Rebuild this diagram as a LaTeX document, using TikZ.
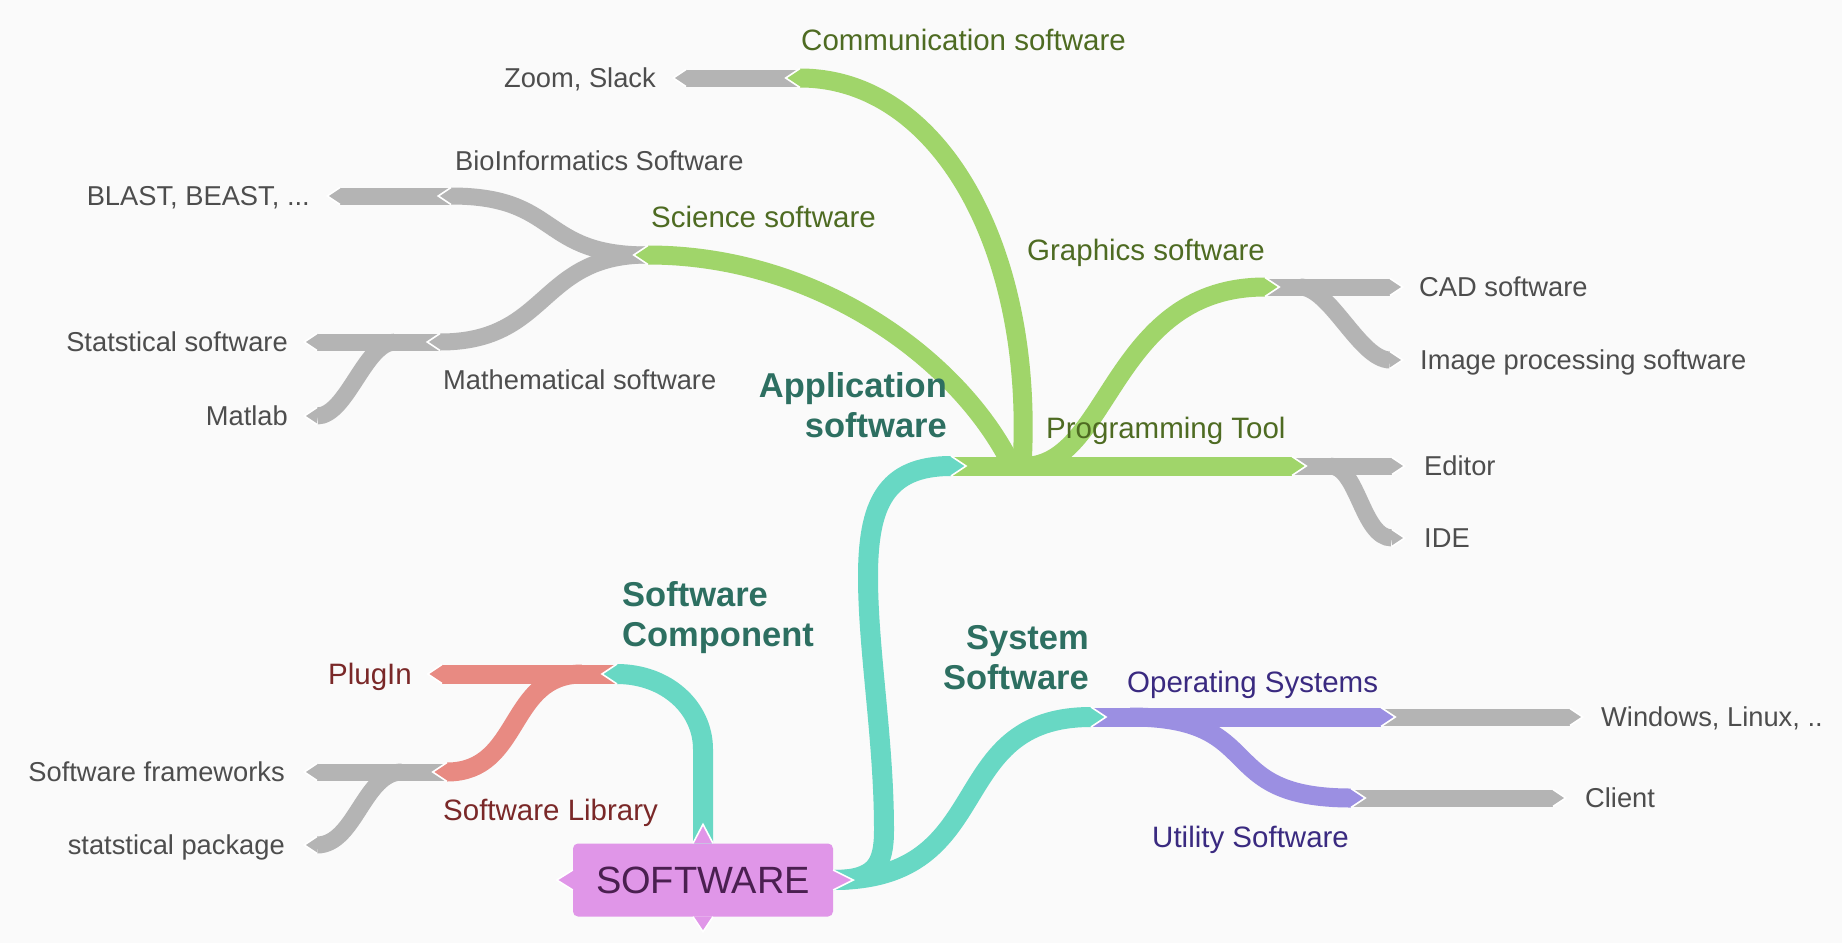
\documentclass[tikz,border=0pt]{standalone}
\usepackage{fontspec}
\setmainfont{Liberation Sans}
\usetikzlibrary{positioning}

\definecolor{bggray}{RGB}{250,250,250}
\definecolor{leafgray}{RGB}{180,180,180}
\definecolor{leaftext}{RGB}{77,77,77}
\definecolor{appgreen}{RGB}{160,213,106}
\definecolor{apptext}{RGB}{78,107,34}
\definecolor{rootteal}{RGB}{104,216,196}
\definecolor{tealtext}{RGB}{45,111,97}
\definecolor{syspurple}{RGB}{155,143,226}
\definecolor{systext}{RGB}{58,42,128}
\definecolor{comprose}{RGB}{232,138,130}
\definecolor{comptext}{RGB}{122,40,40}
\definecolor{rootpink}{RGB}{224,150,232}
\definecolor{roottext}{RGB}{74,31,80}

%% pointed ends of the branches: at, colour, half width
\newcommand{\tipW}[3]{\filldraw[fill=#2, draw=white, line width=1.6pt] ([yshift=#3]#1) -- ([xshift=-1.5*#3]#1) -- ([yshift=-#3]#1);}
\newcommand{\tipE}[3]{\filldraw[fill=#2, draw=white, line width=1.6pt] ([yshift=#3]#1) -- ([xshift=1.5*#3]#1) -- ([yshift=-#3]#1);}

\tikzset{
  bar/.style={draw=leafgray, line width=17pt, line cap=butt},
  limb/.style={line width=19pt, line cap=butt},
  trunk/.style={draw=rootteal, line width=20pt, line cap=butt},
  leaf/.style={font=\fontsize{27.3}{30}\selectfont, text=leaftext, inner sep=0pt, text height=19.5pt, text depth=0pt},
  topic/.style={font=\fontsize{29.5}{33}\selectfont, inner sep=0pt, text height=21.1pt, text depth=0pt},
  headline/.style={font=\bfseries\fontsize{34.5}{40}\selectfont, text=tealtext, inner sep=0pt},
  rootbox/.style={fill=rootpink, rounded corners=5pt, minimum width=260pt, minimum height=73pt, inner sep=0pt, text=roottext, font=\fontsize{38}{40}\selectfont},
  spike/.style={fill=rootpink, draw=white, line width=1.6pt},
}

\begin{document}
\begin{tikzpicture}[x=1pt,y=-1pt]
    %% canvas
    \fill[bggray] (0,0) rectangle (1842,943);
    \useasboundingbox (0,0) rectangle (1842,943);

    %% joints of the branches
    \coordinate (hub) at (951,466);
    \coordinate (sys) at (1091,717);
    \coordinate (comp) at (617,674);
    \coordinate (comm) at (800,78);
    \coordinate (sci) at (648,255);
    \coordinate (graph) at (1265,287);
    \coordinate (prog) at (1292,466);
    \coordinate (os) at (1381,717);
    \coordinate (util) at (1351,798);
    \coordinate (plug) at (442,674);
    \coordinate (lib) at (447,772);
    \coordinate (bio) at (451,196);
    \coordinate (math) at (440,342);
    %% ends of the leaves
    \coordinate (zoom) at (686,78);
    \coordinate (blast) at (340,196);
    \coordinate (stat) at (317,342);
    \coordinate (matlab) at (317,416);
    \coordinate (cad) at (1390,287);
    \coordinate (img) at (1390,360);
    \coordinate (editor) at (1392,466);
    \coordinate (ide) at (1392,538);
    \coordinate (win) at (1570,717);
    \coordinate (client) at (1553,798);
    \coordinate (frame) at (317,772);
    \coordinate (pkg) at (317,845);

    %% grey leaves
    \draw[bar] (bio) -- (blast); \tipW{blast}{leafgray}{8.5pt}
    \draw[bar] (math) -- (stat); \tipW{stat}{leafgray}{8.5pt}
    \draw[bar] ([xshift=-45pt]math) .. controls +(-30,0) and +(30,0) .. (matlab); \tipW{matlab}{leafgray}{8.5pt}
    \draw[bar] (sci) .. controls +(-110,0) and +(110,0) .. (bio); \tipW{bio}{leafgray}{8.5pt}
    \draw[bar] (sci) .. controls +(-110,0) and +(110,0) .. (math); \tipW{math}{leafgray}{8.5pt}
    \draw[bar] (comm) -- (zoom); \tipW{zoom}{leafgray}{8.5pt}
    \draw[bar] (graph) -- (cad); \tipE{cad}{leafgray}{8.5pt}
    \draw[bar] ([xshift=35pt]graph) .. controls +(30,0) and +(-30,0) .. (img); \tipE{img}{leafgray}{8.5pt}
    \draw[bar] (prog) -- (editor); \tipE{editor}{leafgray}{8.5pt}
    \draw[bar] ([xshift=38pt]prog) .. controls +(28,0) and +(-30,0) .. (ide); \tipE{ide}{leafgray}{8.5pt}
    \draw[bar] (os) -- (win); \tipE{win}{leafgray}{8.5pt}
    \draw[bar] (util) -- (client); \tipE{client}{leafgray}{8.5pt}
    \draw[bar] (lib) -- (frame); \tipW{frame}{leafgray}{8.5pt}
    \draw[bar] ([xshift=-45pt]lib) .. controls +(-38,0) and +(38,0) .. (pkg); \tipW{pkg}{leafgray}{8.5pt}

    %% application software
    \draw[limb, draw=appgreen] (hub) -- (prog); \tipE{prog}{appgreen}{9.5pt}
    \draw[limb, draw=appgreen] (sci) .. controls +(170,0) and +(-52,-106) .. ([xshift=61pt]hub); \tipW{sci}{appgreen}{9.5pt}
    \draw[limb, draw=appgreen] (comm) .. controls +(140,0) and +(13,-216) .. ([xshift=71pt]hub); \tipW{comm}{appgreen}{9.5pt}
    \draw[limb, draw=appgreen] ([xshift=80pt]hub) .. controls +(80,-10) and +(-150,0) .. (graph); \tipE{graph}{appgreen}{9.5pt}

    %% system software
    \draw[limb, draw=syspurple] (sys) -- (os); \tipE{os}{syspurple}{9.5pt}
    \draw[limb, draw=syspurple] ([xshift=39pt]sys) .. controls +(140,0) and +(-140,0) .. (util); \tipE{util}{syspurple}{9.5pt}

    %% software component
    \draw[limb, draw=comprose] (comp) -- (plug); \tipW{plug}{comprose}{9.5pt}
    \draw[limb, draw=comprose] ([xshift=-35pt]comp) .. controls +(-75,0) and +(75,0) .. (lib); \tipW{lib}{comprose}{9.5pt}

    %% root
    \node[rootbox] (root) at (703,880) {SOFTWARE};
    \draw[trunk] (root.east) .. controls +(42,0) and +(0,35) .. (884,830) .. controls +(0,-90) and +(0,73) .. (868,577) .. controls +(0,-72) and +(-66,0) .. (hub); \tipE{hub}{rootteal}{10pt}
    \draw[trunk] (root.east) .. controls +(167,0) and +(-150,0) .. (sys); \tipE{sys}{rootteal}{10pt}
    \draw[trunk] (root.north) -- ++(0,-94) .. controls +(0,-42) and +(49,0) .. (comp); \tipW{comp}{rootteal}{10pt}
    \filldraw[spike] ([xshift=-10pt]root.north) -- ([yshift=19pt]root.north) -- ([xshift=10pt]root.north);
    \filldraw[spike] ([xshift=-10pt]root.south) -- ([yshift=-15pt]root.south) -- ([xshift=10pt]root.south);
    \filldraw[spike] ([yshift=10pt]root.east) -- ([xshift=20pt]root.east) -- ([yshift=-10pt]root.east);
    \filldraw[spike] ([yshift=10pt]root.west) -- ([xshift=-16pt]root.west) -- ([yshift=-10pt]root.west);

    %% leaf labels
    \node[leaf, left=30pt of zoom] (t-zoom) {Zoom, Slack};
    \node[leaf, left=30pt of blast] (t-blast) {BLAST, BEAST, ...};
    \node[leaf, left=29pt of stat] (t-stat) {Statstical software};
    \node[leaf, left=29pt of matlab] (t-matlab) {Matlab};
    \node[leaf, right=29pt of cad] (t-cad) {CAD software};
    \node[leaf, right=30pt of img] (t-img) {Image processing software};
    \node[leaf, right=32pt of editor] (t-editor) {Editor};
    \node[leaf, right=32pt of ide] (t-ide) {IDE};
    \node[leaf, right=31pt of win] (t-win) {Windows, Linux, ..};
    \node[leaf, right=32pt of client] (t-client) {Client};
    \node[leaf, left=32pt of frame] (t-frame) {Software frameworks};
    \node[leaf, left=32pt of pkg] (t-pkg) {statstical package};
    \node[leaf, anchor=west] (t-bio) at (455,161) {BioInformatics Software};
    \node[leaf, anchor=west] (t-math) at (443,380) {Mathematical software};

    %% branch labels
    \node[topic, text=apptext, anchor=west] (t-comm) at (801,40) {Communication software};
    \node[topic, text=apptext, anchor=west] (t-sci) at (651,217) {Science software};
    \node[topic, text=apptext, anchor=west] (t-graph) at (1027,250) {Graphics software};
    \node[topic, text=apptext, anchor=west] (t-prog) at (1046,428) {Programming Tool};
    \node[topic, text=systext, anchor=west] (t-os) at (1127,682) {Operating Systems};
    \node[topic, text=systext, anchor=west] (t-util) at (1152,837) {Utility Software};
    \node[topic, text=comptext, left=30pt of plug] (t-plug) {PlugIn};
    \node[topic, text=comptext, anchor=west] (t-lib) at (443,810) {Software Library};

    %% main labels
    \node[headline, align=right, anchor=north east] (t-app) at (947,372) {Application\\software};
    \node[headline, align=left, anchor=north west] (t-comp) at (622,581) {Software\\Component};
    \node[headline, align=right, anchor=north east] (t-sys) at (1089,625) {System\\Software};
\end{tikzpicture}
\end{document}
